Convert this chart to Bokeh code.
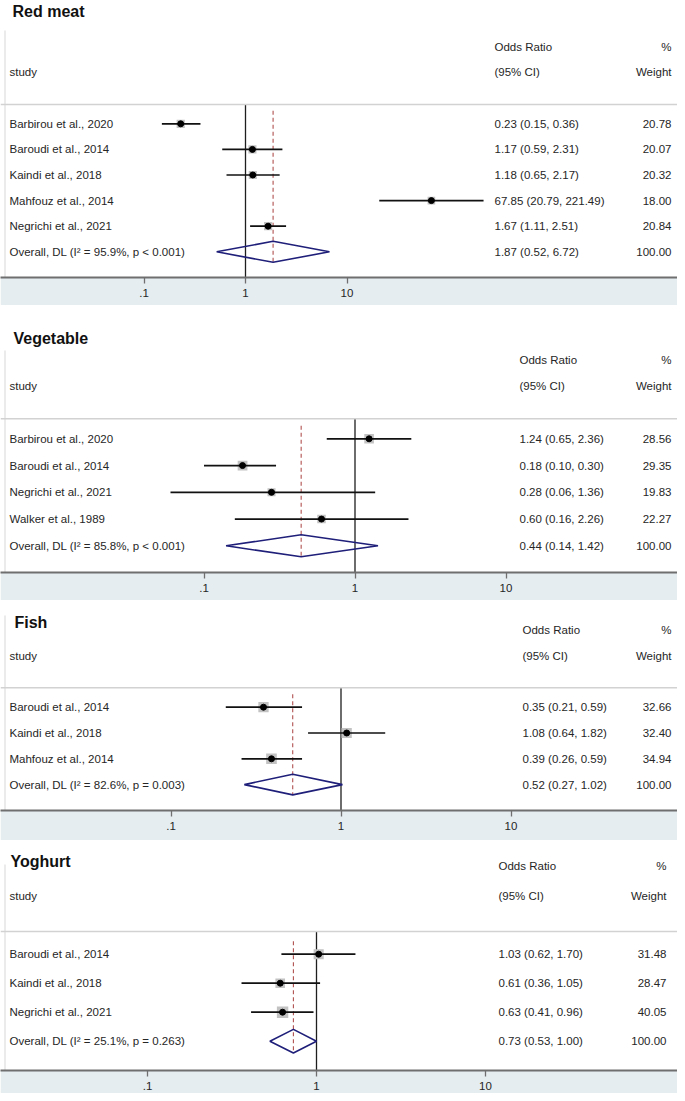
import numpy as np
from bokeh.plotting import figure
from bokeh.models import Range1d, FixedTicker, Span
from bokeh.layouts import column
from bokeh.embed import file_html
from bokeh.resources import INLINE
from bokeh.core.properties import value

# ---------------- data ----------------
redmeat_studies = ["Barbirou et al., 2020", "Baroudi et al., 2014", "Kaindi et al., 2018",
                   "Mahfouz et al., 2014", "Negrichi et al., 2021"]
redmeat_or = [0.23, 1.17, 1.18, 67.85, 1.67]
redmeat_lo = [0.15, 0.59, 0.65, 20.79, 1.11]
redmeat_hi = [0.36, 2.31, 2.17, 221.49, 2.51]
redmeat_w = [20.78, 20.07, 20.32, 18.00, 20.84]
redmeat_overall = [1.87, 0.52, 6.72]
redmeat_het = ["95.9%", "p < 0.001"]

veg_studies = ["Barbirou et al., 2020", "Baroudi et al., 2014", "Negrichi et al., 2021",
               "Walker et al., 1989"]
veg_or = [1.24, 0.18, 0.28, 0.60]
veg_lo = [0.65, 0.10, 0.06, 0.16]
veg_hi = [2.36, 0.30, 1.36, 2.26]
veg_w = [28.56, 29.35, 19.83, 22.27]
veg_overall = [0.44, 0.14, 1.42]
veg_het = ["85.8%", "p < 0.001"]

fish_studies = ["Baroudi et al., 2014", "Kaindi et al., 2018", "Mahfouz et al., 2014"]
fish_or = [0.35, 1.08, 0.39]
fish_lo = [0.21, 0.64, 0.26]
fish_hi = [0.59, 1.82, 0.59]
fish_w = [32.66, 32.40, 34.94]
fish_overall = [0.52, 0.27, 1.02]
fish_het = ["82.6%", "p = 0.003"]

yog_studies = ["Baroudi et al., 2014", "Kaindi et al., 2018", "Negrichi et al., 2021"]
yog_or = [1.03, 0.61, 0.63]
yog_lo = [0.62, 0.36, 0.41]
yog_hi = [1.70, 1.05, 0.96]
yog_w = [31.48, 28.47, 40.05]
yog_overall = [0.73, 0.53, 1.00]
yog_het = ["25.1%", "p = 0.263"]

titles = ["Red meat", "Vegetable", "Fish", "Yoghurt"]
tick_values = [0.1, 1, 10]
tick_labels = [".1", "1", "10"]

data = [
    (redmeat_studies, redmeat_or, redmeat_lo, redmeat_hi, redmeat_w, redmeat_overall, redmeat_het),
    (veg_studies, veg_or, veg_lo, veg_hi, veg_w, veg_overall, veg_het),
    (fish_studies, fish_or, fish_lo, fish_hi, fish_w, fish_overall, fish_het),
    (yog_studies, yog_or, yog_lo, yog_hi, yog_w, yog_overall, yog_het),
]

# ---------------- layout (picture pixels) ----------------
layout = [
    dict(top=0, axis=277, bottom=305, c=245.0, d=101.5, title_x=12, title_y=10.5, h1=46.7, h2=71.7,
         hline=104, row0=123.3, dy=25.6, dh=10.5, btop=30, or_x=494, w_x=671),
    dict(top=305, axis=572, bottom=600, c=354.5, d=151.0, title_x=13, title_y=338.3, h1=359.3, h2=385.7,
         hline=418.3, row0=438.3, dy=26.75, dh=11.0, btop=350, or_x=519, w_x=671),
    dict(top=600, axis=810, bottom=840, c=340.5, d=170.0, title_x=14, title_y=621.7, h1=629, h2=655,
         hline=687.3, row0=706.7, dy=25.8, dh=10.3, btop=615, or_x=522, w_x=671),
    dict(top=840, axis=1070, bottom=1093, c=316.0, d=169.0, title_x=10, title_y=861, h1=865.7, h2=895.7,
         hline=931, row0=953.7, dy=29.0, dh=11.8, btop=864, or_x=498, w_x=666),
]

FONT = value("Liberation Sans")
TXT = "#262626"
BAND = "#e5edf0"
FS = "11.5px"
LEFT, RIGHT = 0, 677
BORDER_PX = 4.5

figs = []
for title, (studies, ors, los, his, ws, ov, het), L in zip(titles, data, layout):
    x0 = 10 ** ((LEFT - L["c"]) / L["d"])
    x1 = 10 ** ((RIGHT - L["c"]) / L["d"])
    xb = 10 ** ((BORDER_PX - L["c"]) / L["d"])
    p = figure(width=RIGHT - LEFT, height=L["bottom"] - L["top"],
               x_axis_type="log", x_range=Range1d(x0, x1),
               y_range=Range1d(L["axis"], L["top"]),
               output_backend="svg", toolbar_location=None, tools="",
               y_axis_location=None, x_axis_location="below",
               min_border_left=0, min_border_right=0, min_border_top=0,
               min_border_bottom=L["bottom"] - L["axis"],
               outline_line_color=None, background_fill_color="white",
               border_fill_color=BAND)
    p.xgrid.visible = False
    p.ygrid.visible = False

    ax = p.xaxis[0]
    ax.ticker = FixedTicker(ticks=tick_values, minor_ticks=[])
    ax.major_label_overrides = {v: t for v, t in zip(tick_values, tick_labels)}
    ax.axis_line_color = "#6f6f6f"
    ax.axis_line_width = 2.2
    ax.major_tick_line_color = "#6f6f6f"
    ax.major_tick_line_width = 1.3
    ax.major_tick_out = 6
    ax.major_tick_in = 0
    ax.minor_tick_line_color = None
    ax.major_label_text_font = "Liberation Sans"
    ax.major_label_text_font_size = FS
    ax.major_label_text_color = TXT
    ax.major_label_standoff = 5

    n = len(studies)
    ys = [L["row0"] + i * L["dy"] for i in range(n)]
    oy = L["row0"] + n * L["dy"]
    est, olo, ohi = ov

    # frame lines
    p.segment(x0=[xb], x1=[xb], y0=[L["btop"]], y1=[L["axis"]], line_color="#dedede", line_width=1.2)
    p.add_layout(Span(location=L["hline"], dimension="width", line_color="#d2d2d2", line_width=1.5))
    p.segment(x0=[1], x1=[1], y0=[L["hline"]], y1=[L["axis"]], line_color="#1e1e1e", line_width=1.3)
    p.segment(x0=[est], x1=[est], y0=[L["row0"] - 13], y1=[oy + L["dh"]],
              line_color="#b0504f", line_width=1.1, line_dash="4 3")

    # study markers
    p.scatter(x=ors, y=ys, marker="square", size=[1.8 * np.sqrt(w) for w in ws],
              fill_color="#c2c2c2", line_color=None)
    p.segment(x0=los, x1=his, y0=ys, y1=ys, line_color="#111111", line_width=1.7)
    p.scatter(x=ors, y=ys, marker="circle", size=6, fill_color="black", line_color="black")

    # overall diamond
    p.patch(x=[olo, est, ohi, est], y=[oy, oy - L["dh"], oy, oy + L["dh"]],
            fill_color=None, line_color="#1f1f7a", line_width=1.6)

    # texts
    def txt(px, y, labels, align="left", size=FS, style="normal", color=TXT):
        p.text(x=[x0] * len(labels), y=y, text=labels, x_offset=px - LEFT,
               text_align=align, text_baseline="middle", text_font=FONT,
               text_font_size=size, text_font_style=style, text_color=color)

    txt(L["title_x"], [L["title_y"]], [title], size="16px", style="bold", color="#111111")
    txt(9, [L["h2"]], ["study"])
    txt(L["or_x"], [L["h1"], L["h2"]], ["Odds Ratio", "(95% CI)"])
    txt(L["w_x"], [L["h1"], L["h2"]], ["%", "Weight"], align="right")

    row_labels = list(studies) + [f"Overall, DL (I\u00b2 = {het[0]}, {het[1]})"]
    or_labels = [f"{o:.2f} ({l:.2f}, {h:.2f})" for o, l, h in zip(ors, los, his)]
    or_labels.append(f"{est:.2f} ({olo:.2f}, {ohi:.2f})")
    w_labels = [f"{w:.2f}" for w in ws] + [f"{100:.2f}"]
    all_y = ys + [oy]
    txt(9, all_y, row_labels)
    txt(L["or_x"], all_y, or_labels)
    txt(L["w_x"], all_y, w_labels, align="right")

    figs.append(p)

layout_col = column(*figs, spacing=0)
open("out.html", "w").write(file_html(layout_col, INLINE))
